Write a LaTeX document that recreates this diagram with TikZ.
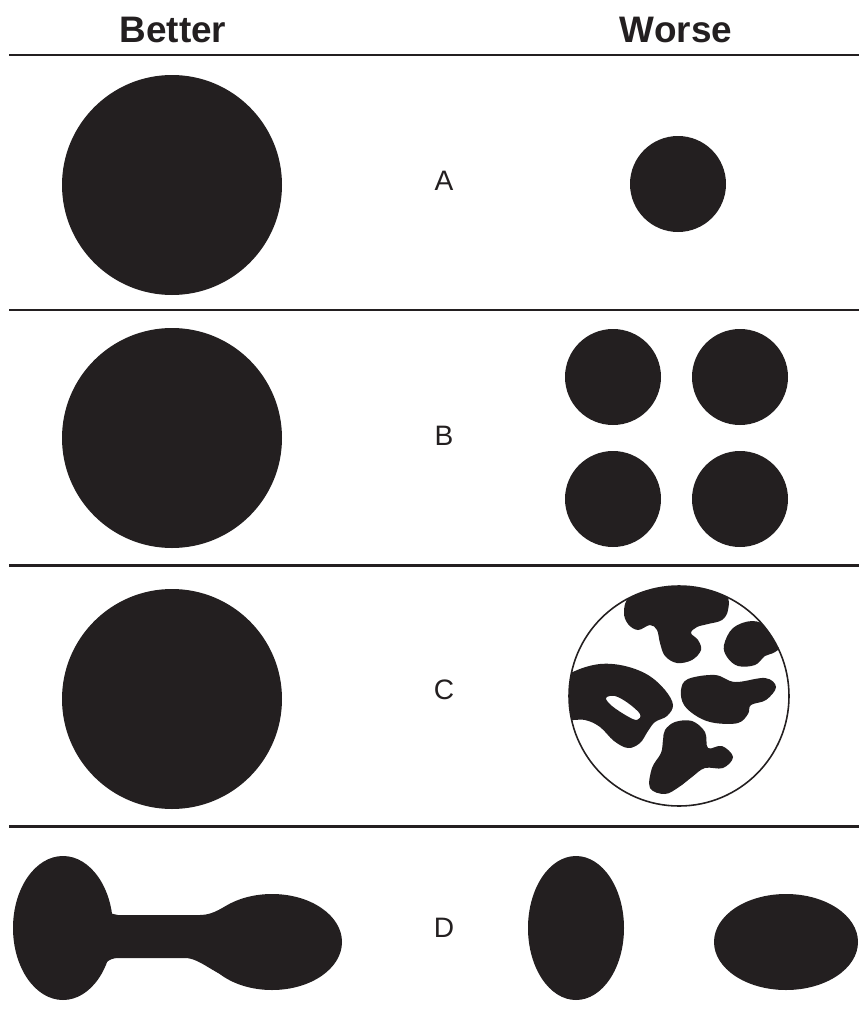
\documentclass[tikz,border=0pt]{standalone}
\usepackage{fontspec}
\setmainfont{Liberation Sans}
\usepackage{tikz}
\usetikzlibrary{calc}
\definecolor{inkblk}{RGB}{35,31,32}
\tikzset{
  rule line/.style  = {inkblk, line width=1.7pt},
  solid blob/.style = {fill=inkblk, draw=none},
  ring line/.style  = {inkblk, line width=0.9pt},
  head text/.style  = {inkblk, font=\fontsize{21}{24}\selectfont\bfseries},
  row text/.style   = {inkblk, font=\fontsize{16}{19}\selectfont},
}

\begin{document}
\begin{tikzpicture}[x=0.02cm, y=-0.02cm]

  % page frame (pixel grid, y runs downwards)
  \useasboundingbox (0,0) rectangle (859,1021);

  % ── column headings ───────────────────────────────────────────────
  \node[head text] (better) at (173,30) {Better};
  \node[head text] (worse)  at (676,30) {Worse};

  % ── separating rules ──────────────────────────────────────────────
  \foreach \y in {55,310,565,826}{
    \draw[rule line] (9,\y) -- (859,\y);
  }

  % ── row letters ───────────────────────────────────────────────────
  \foreach \lbl/\y in {A/181, B/436, C/690, D/928}{
    \node[row text] (row\lbl) at (444,\y) {\lbl};
  }

  % ── better column: one large particle ─────────────────────────────
  \foreach \y in {185,438,699}{
    \fill[solid blob] (172,\y) circle (110);
  }

  % ── row A: small particle ─────────────────────────────────────────
  \fill[solid blob] (678,184) circle (48);

  % ── row B: four small particles ───────────────────────────────────
  \foreach \x in {613,740}{
    \foreach \y in {377,499}{
      \fill[solid blob] (\x,\y) circle (48);
    }
  }

  % ── row C: fragmented particle inside a ring ──────────────────────
  \begin{scope}
    \clip (679,696) circle (110);
    % top "T"
    \fill[solid blob] plot[smooth cycle, tension=0.6] coordinates {
      (624,612) (630,596) (660,580) (700,580) (726,595) (728,610)
      (722,620) (708,624) (697,627) (691,633) (698,640) (701,650)
      (692,660) (677,663) (665,656) (660,643) (657,630) (650,625)
      (638,630) (628,624)};
    % upper right lump
    \fill[solid blob] plot[smooth cycle, tension=0.6] coordinates {
      (724,645) (733,628) (752,621) (770,627) (788,640) (775,652)
      (765,656) (755,665) (738,666) (727,657)};
    % left hook with hole
    \fill[solid blob, even odd rule]
      plot[smooth cycle, tension=0.6] coordinates {
        (556,684) (575,671) (600,664) (625,666) (648,675) (665,690)
        (673,705) (667,716) (655,722) (648,731) (640,743) (628,748)
        (614,741) (600,727) (585,720) (560,717)}
      plot[smooth cycle, tension=0.6] coordinates {
        (606,698) (615,696) (628,703) (640,714) (637,720) (627,716)
        (612,706)};
    % middle right branch
    \fill[solid blob] plot[smooth cycle, tension=0.6] coordinates {
      (681,690) (688,679) (715,675) (735,682) (765,678) (776,687)
      (766,700) (751,705) (748,714) (738,723) (715,723) (698,717)
      (684,705)};
    % bottom "Y"
    \fill[solid blob] plot[smooth cycle, tension=0.6] coordinates {
      (665,730) (675,722) (692,721) (705,732) (708,748) (722,746)
      (733,757) (723,768) (705,768) (692,777) (679,787) (665,794)
      (650,788) (652,768) (661,753) (663,740)};
  \end{scope}
  \draw[ring line] (679,696) circle (110);

  % ── row D, better: two lobes joined by a neck ─────────────────────
  \fill[solid blob] (63,928) ellipse [x radius=50, y radius=72];
  \fill[solid blob] (272,942) ellipse [x radius=70, y radius=48];
  \fill[solid blob] (100,900) .. controls (108,913) .. (118,915)
    -- (200,915) .. controls (215,915) and (222,906) .. (235,903)
    -- (235,980) .. controls (215,975) and (200,958) .. (185,958)
    -- (118,958) .. controls (108,958) and (103,965) .. (100,972)
    -- cycle;

  % ── row D, worse: two separate lobes ──────────────────────────────
  \fill[solid blob] (576,928) ellipse [x radius=48, y radius=72];
  \fill[solid blob] (786,942) ellipse [x radius=72, y radius=48];

\end{tikzpicture}
\end{document}
